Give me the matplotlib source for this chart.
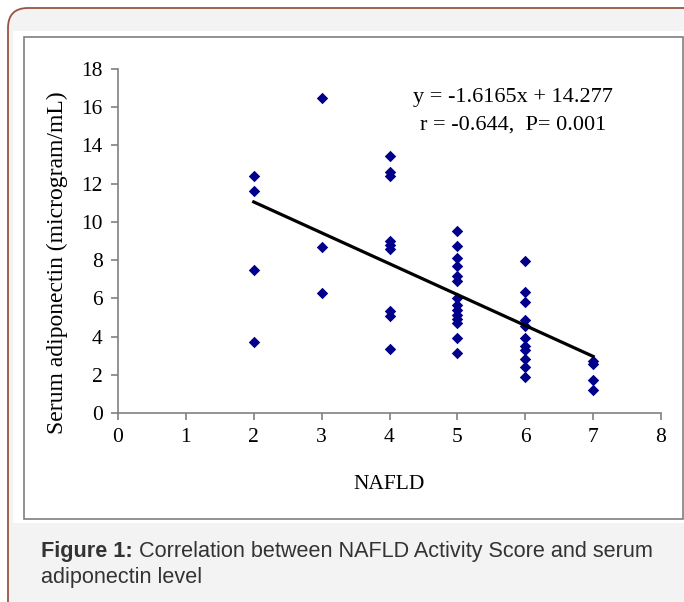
import matplotlib.pyplot as plt
import numpy as np
from matplotlib.patches import FancyBboxPatch, Rectangle

# NAFLD activity score and serum adiponectin (microgram/mL)
nafld = [2, 2, 2, 2,
         3, 3, 3,
         4, 4, 4, 4, 4, 4, 4, 4, 4,
         5, 5, 5, 5, 5, 5, 5, 5, 5, 5, 5, 5, 5, 5,
         6, 6, 6, 6, 6, 6, 6, 6, 6, 6, 6,
         7, 7, 7, 7]
adipo = [12.4, 11.6, 7.5, 3.7,
         16.5, 8.7, 6.3,
         13.45, 12.6, 12.4, 9.0, 8.8, 8.6, 5.35, 5.05, 3.35,
         9.5, 8.75, 8.1, 7.7, 7.15, 6.9, 6.0, 5.65, 5.4, 5.15, 4.9, 4.7, 3.95, 3.15,
         7.95, 6.35, 5.8, 4.85, 4.55, 3.95, 3.5, 3.3, 2.8, 2.4, 1.9,
         2.7, 2.55, 1.75, 1.2]

slope, intercept = -1.6165, 14.277
eq_text = "y = -1.6165x + 14.277"
stat_text = "r = -0.644,  P= 0.001"
x_ticks = np.arange(0, 9, 1)
y_ticks = np.arange(0, 20, 2)
caption_bold = "Figure 1:"
caption_rest = " Correlation between NAFLD Activity Score and serum"
caption_line2 = "adiponectin level"

W, H = 684, 602
fig = plt.figure(figsize=(W / 100, H / 100), dpi=100, facecolor="white")

# background panel in pixel coordinates
bg = fig.add_axes([0, 0, 1, 1])
bg.set_xlim(0, W)
bg.set_ylim(H, 0)
bg.axis("off")
bg.add_patch(FancyBboxPatch((8, 8), 720, 620, boxstyle="round,pad=0,rounding_size=20",
                            facecolor="#f3f3f3", edgecolor="#9a5444", linewidth=1.3))
bg.add_patch(Rectangle((13, 31), 700, 492, facecolor="white", edgecolor="none"))
bg.add_patch(Rectangle((24, 37), 659, 482, facecolor="none", edgecolor="#7f7f7f", linewidth=1.2))

t = bg.text(41, 552, caption_bold, fontsize=15.6, fontweight="bold", color="#333333",
            family="Liberation Sans", va="center", ha="left")
bg.annotate(caption_rest, xy=(1, 0), xycoords=t, va="bottom", ha="left",
            fontsize=15.6, color="#333333", family="Liberation Sans")
bg.text(41, 578, caption_line2, fontsize=15.6, color="#333333",
        family="Liberation Sans", va="center", ha="left")

# main scatter plot
ax = fig.add_axes([118 / W, 1 - 413 / H, (661 - 118) / W, (413 - 69) / H])
ax.patch.set_alpha(0)
ax.scatter(nafld, adipo, marker="D", s=34, color="#00008b", zorder=3, linewidths=0)

xl = np.array([min(nafld), max(nafld)])
ax.plot(xl, np.polyval([slope, intercept], xl), color="black", linewidth=2.3, zorder=4)

ax.set_xlim(0, 8)
ax.set_ylim(0, 18)
ax.set_xticks(x_ticks)
ax.set_yticks(y_ticks)
for s in ["top", "right"]:
    ax.spines[s].set_visible(False)
for s in ["left", "bottom"]:
    ax.spines[s].set_color("#808080")
    ax.spines[s].set_linewidth(1.2)
ax.tick_params(direction="out", length=5, width=1.2, color="#808080", labelsize=15.5, pad=6)
for lab in ax.get_xticklabels() + ax.get_yticklabels():
    lab.set_family("Liberation Serif")

ax.set_xlabel("NAFLD", fontsize=15.5, family="Liberation Serif", labelpad=20)
ax.text(-0.1123, 0.4375, "Serum adiponectin (microgram/mL)", transform=ax.transAxes,
        rotation=90, ha="center", va="center", fontsize=17, family="Liberation Serif")

ax.text(5.82, 16.5, eq_text, fontsize=16, family="Liberation Serif", ha="center", va="center")
ax.text(5.82, 15.05, stat_text, fontsize=16, family="Liberation Serif", ha="center", va="center")

fig.savefig("out.png", dpi=100)
